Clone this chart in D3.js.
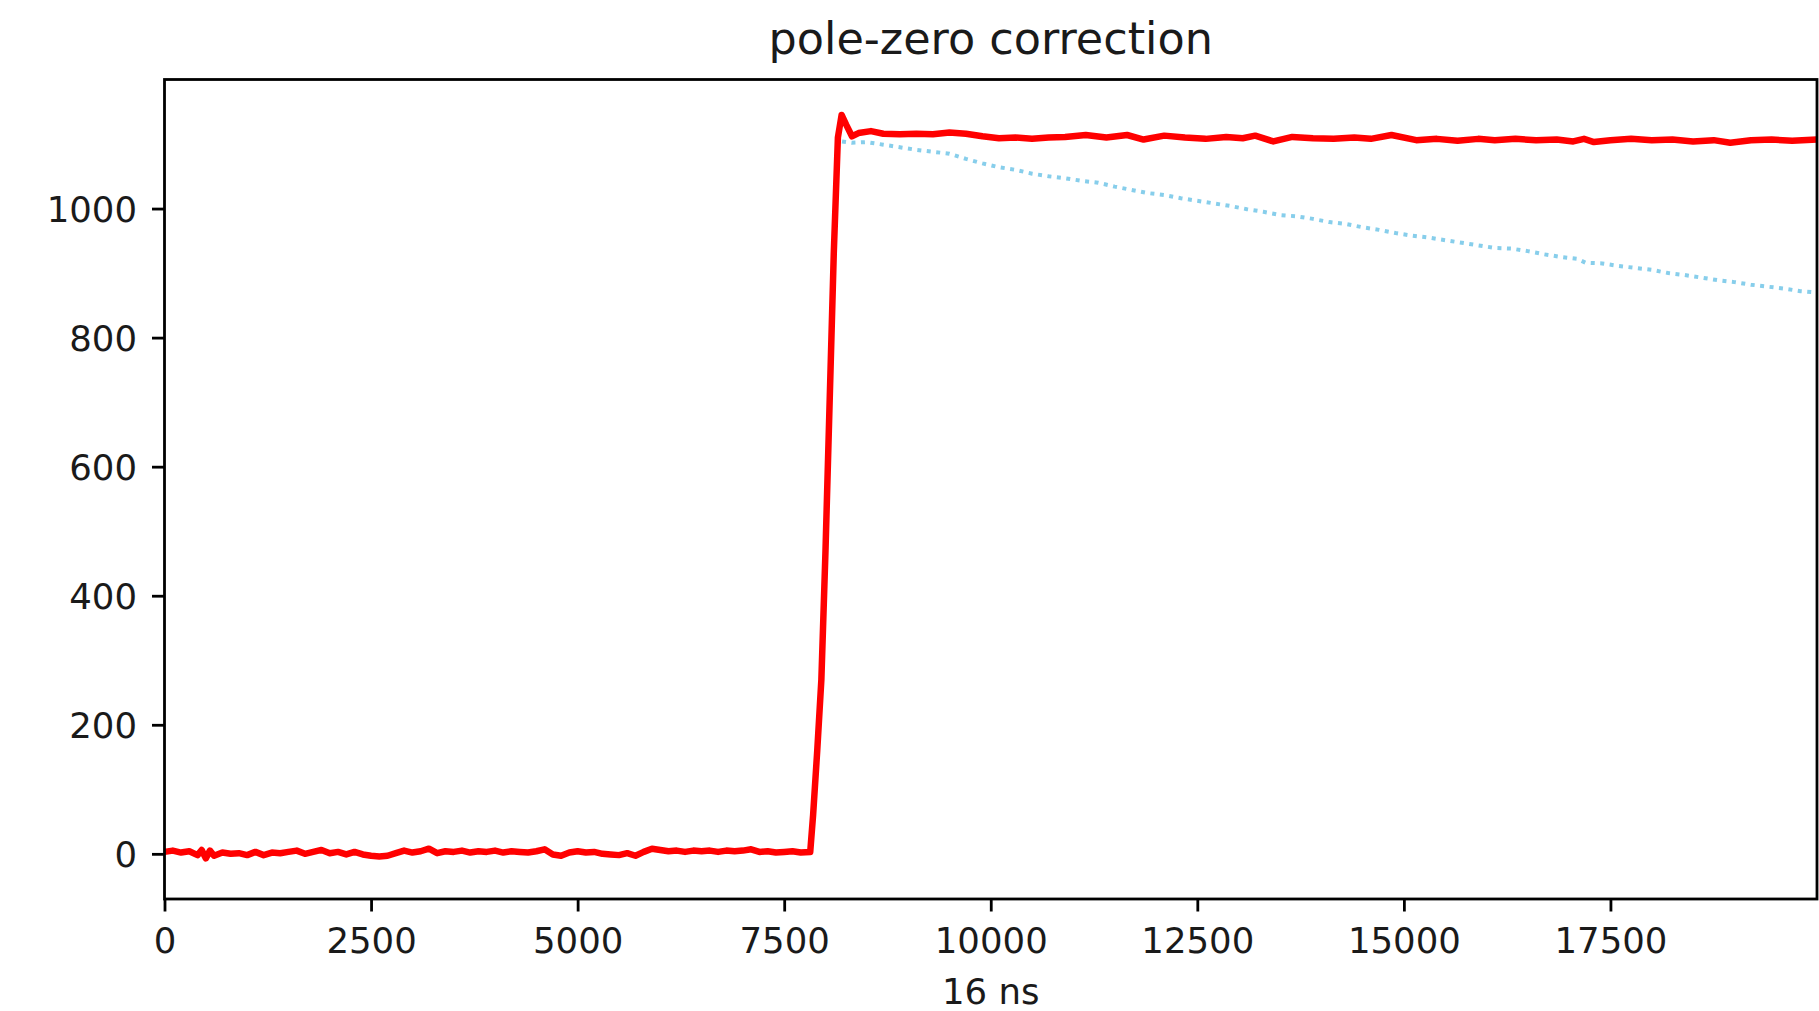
<!DOCTYPE html>
<html>
<head>
<meta charset="utf-8">
<script src="https://cdn.jsdelivr.net/npm/d3@7"></script>
<style>
    html, body { margin: 0; padding: 0; background: #fff; }
    svg { display: block; font-family: 'DejaVu Sans', sans-serif; }
</style>
</head>
<body>
<svg id="chart" width="1819" height="1011"></svg>
<script>
// [sample, value] pairs
const redBaseline = [
    [0, 3], [100, 5], [200, 2], [300, 4], [400, -2], [450, 6], [500, -7], [550, 5], [600, -3],
    [700, 2], [800, 0], [900, 1], [1000, -2], [1100, 3], [1200, -2], [1300, 2], [1400, 1],
    [1500, 3], [1600, 5], [1700, 0], [1800, 3], [1900, 6], [2000, 1], [2100, 3], [2200, -1],
    [2300, 3], [2400, -1], [2500, -3], [2600, -4], [2700, -3], [2800, 1], [2900, 5], [3000, 2],
    [3100, 4], [3200, 8], [3300, 1], [3400, 4], [3500, 3], [3600, 5], [3700, 2], [3800, 4],
    [3900, 3], [4000, 5], [4100, 2], [4200, 4], [4300, 3], [4400, 2], [4500, 4], [4600, 7],
    [4700, -1], [4800, -3], [4900, 2], [5000, 4], [5100, 2], [5200, 3], [5300, 0], [5400, -1],
    [5500, -2], [5600, 1], [5700, -3], [5800, 3], [5900, 8], [6000, 6], [6100, 4], [6200, 5],
    [6300, 3], [6400, 5], [6500, 4], [6600, 5], [6700, 3], [6800, 5], [6900, 4], [7000, 5],
    [7100, 7], [7200, 3], [7300, 4], [7400, 2], [7500, 3], [7600, 4], [7700, 2], [7815, 3]
];

const redRise = [
    [7850, 60], [7900, 160], [7950, 270], [8000, 470], [8050, 700], [8100, 930],
    [8150, 1110], [8195, 1145], [8250, 1130], [8320, 1112]
];

const redPlateau = [
    [8400, 1117], [8550, 1120], [8700, 1116], [8900, 1115], [9100, 1116], [9300, 1115],
    [9500, 1118], [9700, 1116], [9900, 1112], [10100, 1109], [10300, 1110], [10500, 1108],
    [10700, 1110], [10900, 1111], [11150, 1114], [11400, 1110], [11650, 1114], [11850, 1107],
    [12100, 1113], [12350, 1110], [12600, 1108], [12850, 1111], [13050, 1109], [13200, 1113],
    [13420, 1104], [13650, 1111], [13900, 1109], [14150, 1108], [14400, 1110], [14600, 1108],
    [14850, 1114], [15150, 1106], [15400, 1108], [15650, 1105], [15900, 1108], [16100, 1106],
    [16350, 1108], [16600, 1106], [16850, 1107], [17050, 1104], [17180, 1108], [17300, 1103],
    [17500, 1106], [17750, 1108], [18000, 1106], [18250, 1107], [18500, 1104], [18750, 1106],
    [18950, 1102], [19200, 1106], [19450, 1107], [19700, 1105], [19999, 1107]
];

const blueDecay = [
    [8200, 1104], [8320, 1102], [8500, 1103], [8700, 1099], [8900, 1095], [9100, 1091],
    [9300, 1088], [9500, 1085], [9700, 1077], [9900, 1070], [10100, 1064], [10300, 1060],
    [10500, 1054], [10700, 1050], [10900, 1047], [11100, 1043], [11300, 1040], [11500, 1034],
    [11700, 1029], [11900, 1024], [12100, 1021], [12300, 1016], [12500, 1012], [12700, 1008],
    [12900, 1004], [13100, 999], [13300, 995], [13500, 990], [13700, 988], [13900, 984],
    [14100, 979], [14300, 976], [14500, 971], [14700, 967], [14900, 962], [15100, 958],
    [15300, 955], [15500, 951], [15700, 947], [15900, 943], [16100, 939], [16300, 938],
    [16500, 934], [16700, 929], [16900, 925], [17100, 922], [17200, 916], [17400, 915],
    [17600, 911], [17800, 908], [18000, 905], [18200, 900], [18400, 897], [18600, 893],
    [18800, 889], [19000, 886], [19200, 882], [19400, 879], [19600, 876], [19800, 872],
    [19999, 870]
];

const xTicks = [0, 2500, 5000, 7500, 10000, 12500, 15000, 17500];
const yTicks = [0, 200, 400, 600, 800, 1000];

const plot = { left: 164.5, top: 79.5, right: 1817, bottom: 899 };

const svg = d3.select('#chart');

const x = d3.scaleLinear().domain([0, 20000]).range([plot.left, plot.right]);
const y = d3.scaleLinear().domain([-70, 1200]).range([plot.bottom, plot.top]);

svg.append('clipPath')
    .attr('id', 'clip')
    .append('rect')
    .attr('x', plot.left)
    .attr('y', plot.top)
    .attr('width', plot.right - plot.left)
    .attr('height', plot.bottom - plot.top);

const line = d3.line().x(d => x(d[0])).y(d => y(d[1]));

// uncorrected trace (dotted, underneath)
svg.append('path')
    .datum(blueDecay)
    .attr('clip-path', 'url(#clip)')
    .attr('fill', 'none')
    .attr('stroke', '#87ceeb')
    .attr('stroke-width', 4)
    .attr('stroke-dasharray', '4,5.5')
    .attr('d', line);

// corrected trace
svg.append('path')
    .datum(redBaseline.concat(redRise, redPlateau))
    .attr('clip-path', 'url(#clip)')
    .attr('fill', 'none')
    .attr('stroke', '#ff0000')
    .attr('stroke-width', 6.5)
    .attr('stroke-linejoin', 'round')
    .attr('d', line);

// X axis
const xAxis = svg.append('g')
    .attr('transform', `translate(0,${plot.bottom})`)
    .call(d3.axisBottom(x).tickValues(xTicks).tickFormat(d3.format('d')).tickSize(12.5).tickPadding(16).tickSizeOuter(0));
xAxis.select('.domain').remove();
xAxis.selectAll('line').attr('stroke', '#000').attr('stroke-width', 2.8);
xAxis.selectAll('text')
    .attr('fill', '#1a1a1a')
    .style('font-size', '35.5px')
    .style('font-family', "'DejaVu Sans', sans-serif");

// Y axis
const yAxis = svg.append('g')
    .attr('transform', `translate(${plot.left},0)`)
    .call(d3.axisLeft(y).tickValues(yTicks).tickFormat(d3.format('d')).tickSize(12.5).tickPadding(15).tickSizeOuter(0));
yAxis.select('.domain').remove();
yAxis.selectAll('line').attr('stroke', '#000').attr('stroke-width', 2.8);
yAxis.selectAll('text')
    .attr('fill', '#1a1a1a')
    .attr('dy', '0.36em')
    .style('font-size', '35.5px')
    .style('font-family', "'DejaVu Sans', sans-serif");

// frame
svg.append('rect')
    .attr('x', plot.left)
    .attr('y', plot.top)
    .attr('width', plot.right - plot.left)
    .attr('height', plot.bottom - plot.top)
    .attr('fill', 'none')
    .attr('stroke', '#000')
    .attr('stroke-width', 2.8);

// title and x label
svg.append('text')
    .attr('x', (plot.left + plot.right) / 2)
    .attr('y', 54)
    .attr('text-anchor', 'middle')
    .attr('fill', '#1a1a1a')
    .style('font-size', '44.5px')
    .text('pole-zero correction');

svg.append('text')
    .attr('x', (plot.left + plot.right) / 2)
    .attr('y', 1004)
    .attr('text-anchor', 'middle')
    .attr('fill', '#1a1a1a')
    .style('font-size', '35.5px')
    .text('16 ns');
</script>
</body>
</html>
